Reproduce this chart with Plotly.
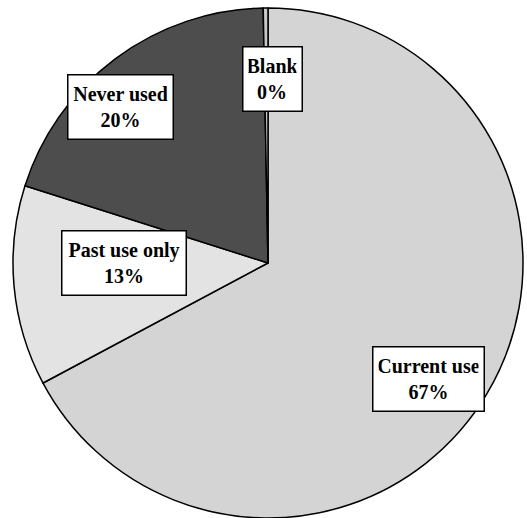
import plotly.graph_objects as go

# Survey responses, clockwise from 12 o'clock
categories = ["Current use", "Past use only", "Never used", "Blank"]
shares = [67.2, 12.7, 19.8, 0.3]
slice_colors = ["#d4d4d4", "#e3e3e3", "#4d4d4d", "#c8c8c8"]

W, H = 527, 518

# Label box centres (pixels from top-left) and box sizes
label_pos = {
    "Current use": (428, 379, 113, 66),
    "Past use only": (124, 263, 126, 66),
    "Never used": (120, 107, 107, 66),
    "Blank": (272, 79, 61, 66),
}

fig = go.Figure(
    go.Pie(
        labels=categories,
        values=shares,
        sort=False,
        direction="clockwise",
        rotation=0,
        marker=dict(colors=slice_colors, line=dict(color="black", width=1.5)),
        textinfo="none",
        hoverinfo="label+percent",
        showlegend=False,
        domain=dict(x=[13 / W, 523 / W], y=[0, 1 - 8 / H]),
    )
)

pad = 5
for name, v in zip(categories, shares):
    cx, cy, bw, bh = label_pos[name]
    fig.add_annotation(
        xref="paper",
        yref="paper",
        x=cx / W,
        y=1 - cy / H,
        xanchor="center",
        yanchor="middle",
        text=f"<b>{name}<br>{round(v)}%</b>",
        showarrow=False,
        align="center",
        font=dict(family="Liberation Serif, Times New Roman, serif", size=20, color="black"),
        bgcolor="white",
        bordercolor="black",
        borderwidth=1.5,
        borderpad=pad,
        width=bw - 2 * pad - 3,
        height=bh - 2 * pad - 3,
    )

fig.update_layout(
    width=W,
    height=H,
    margin=dict(l=0, r=0, t=0, b=0),
    paper_bgcolor="white",
    plot_bgcolor="white",
)

fig.write_html("out.html")
